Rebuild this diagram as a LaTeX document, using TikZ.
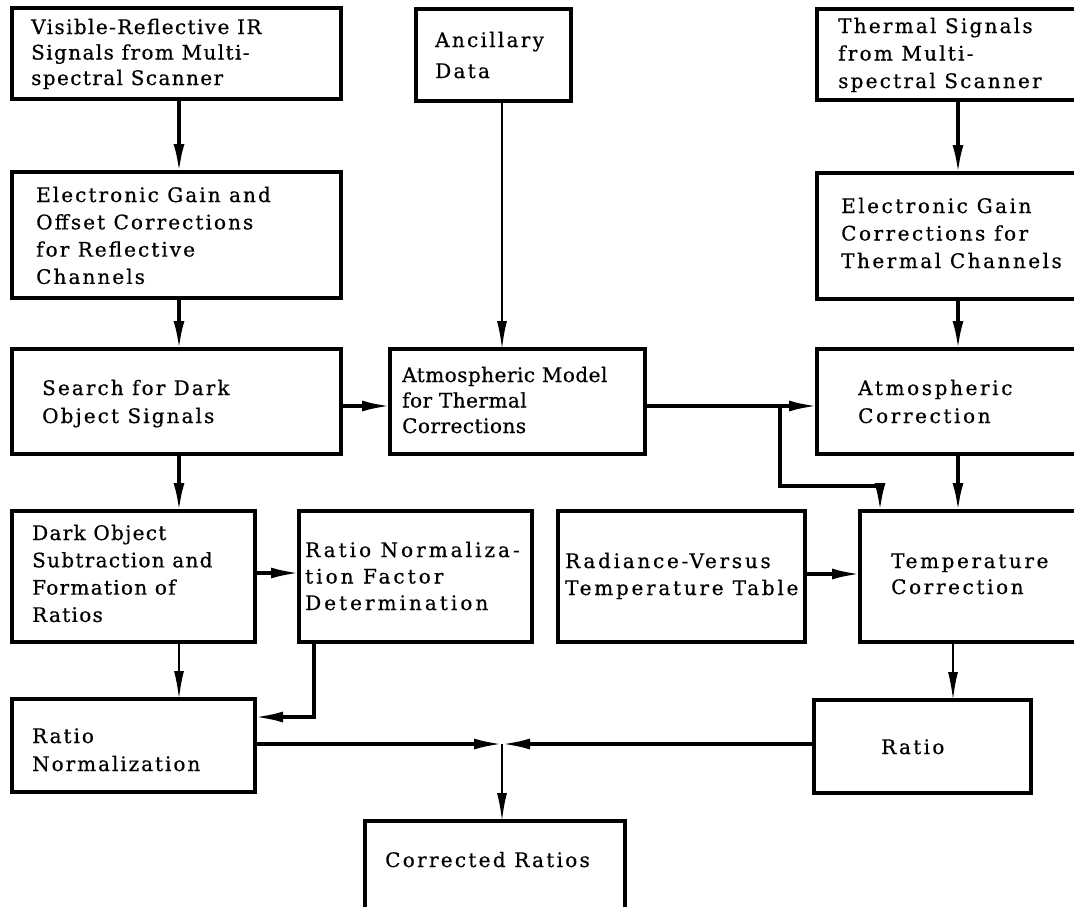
\documentclass[tikz,border=0pt]{standalone}
\usepackage{fontspec}
\setmainfont{DejaVu Serif}
\usetikzlibrary{arrows.meta}
\newcommand\ml[1]{\vtop{\halign{##\hfil\cr#1\crcr}}}
\newcommand\bx[5]{\node[box,minimum width={(#4-#2)*1pt},minimum height={(#5-#3)*1pt}] (#1) at (#2,#3) {};}
\newcommand\tf[2]{\addfontfeature{LetterSpace=#1,FakeBold=0.6}\fontsize{20}{#2}\selectfont}
\begin{document}
\begin{tikzpicture}[x=1pt,y=-1pt,
  box/.style={draw,line width=3.2pt,inner sep=0pt,outer sep=0pt,anchor=north west},
  txt/.style={inner sep=0pt,anchor=base west},
  conn/.style={line width=3.2pt,-{Latex[length=28pt,width=11pt]}},
  thinconn/.style={line width=1.9pt,-{Latex[length=28pt,width=10pt]}}]
\useasboundingbox (0,0) rectangle (1074,906);
\clip (0,0) rectangle (1074,906);
\fill[white] (0,0) rectangle (1074,906);
% boxes
\bx{A}{12}{8}{341}{99}
\bx{Anc}{416}{9}{571}{101}
\bx{Th}{817}{9}{1090}{100}
\bx{EGL}{12}{172}{341}{298}
\bx{EGR}{817}{173}{1090}{299}
\bx{Search}{12}{349}{341}{454}
\bx{Model}{390}{349}{645}{454}
\bx{AtmC}{817}{349}{1090}{454}
\bx{Dark}{12}{511}{255}{642}
\bx{RNF}{299}{511}{532}{642}
\bx{Rad}{558}{511}{805}{642}
\bx{TempC}{860}{511}{1090}{642}
\bx{RatioNorm}{12}{699}{255}{792}
\bx{Ratio}{814}{700}{1031}{793}
\bx{Corr}{365}{821}{625}{930}
% texts
\node[txt,font=\tf{7}{25.5}] (tA) at (31,34) {\ml{Visible-Reflective IR\cr Signals from Multi-\cr spectral Scanner}};
\node[txt,font=\tf{11.4}{31}] (tAnc) at (435,47) {\ml{Ancillary\cr Data}};
\node[txt,font=\tf{11.1}{27.5}] (tTh) at (838,33) {\ml{Thermal Signals\cr from Multi-\cr spectral Scanner}};
\node[txt,font=\tf{10.3}{27.3}] (tEGL) at (36,202) {\ml{Electronic Gain and\cr Offset Corrections\cr for Reflective\cr Channels}};
\node[txt,font=\tf{12.5}{27.5}] (tEGR) at (841,213) {\ml{Electronic Gain\cr Corrections for\cr Thermal Channels}};
\node[txt,font=\tf{10.4}{28}] (tSearch) at (42,395) {\ml{Search for Dark\cr Object Signals}};
\node[txt,font=\tf{2.4}{25.5}] (tModel) at (402,382) {\ml{Atmospheric Model\cr for Thermal\cr Corrections}};
\node[txt,font=\tf{13.1}{28}] (tAtmC) at (858,395) {\ml{Atmospheric\cr Correction}};
\node[txt,font=\tf{6.5}{27.3}] (tDark) at (32,540) {\ml{Dark Object\cr Subtraction and\cr Formation of\cr Ratios}};
\node[txt,font=\tf{15.1}{26.5}] (tRNF) at (305,557) {\ml{Ratio Normaliza-\cr tion Factor\cr Determination}};
\node[txt,font=\tf{13.7}{27}] (tRad) at (565,568) {\ml{Radiance-Versus\cr Temperature Table}};
\node[txt,font=\tf{13.1}{26}] (tTempC) at (891,568) {\ml{Temperature\cr Correction}};
\node[txt,font=\tf{9.8}{28}] (tRatioNorm) at (32,743) {\ml{Ratio\cr Normalization}};
\node[txt,font=\tf{11.6}{26}] (tRatio) at (881,754) {Ratio};
\node[txt,font=\tf{11.4}{26}] (tCorr) at (385,867) {Corrected Ratios};
% helper coordinates
\coordinate (xl) at (179,0);
\coordinate (xa) at (502,0);
\coordinate (xr) at (958,0);
\coordinate (xr2) at (953,0);
\coordinate (ys) at (0,406);
\coordinate (jn) at (780,406);
\coordinate (jb) at (780,486);
\coordinate (jc) at (880,486);
\coordinate (rn1) at (314,717);
\coordinate (yb) at (0,744);
\coordinate (jm) at (502,744);
\coordinate (yr) at (0,574);
\coordinate (yd) at (0,573);
% connectors
\draw[conn] (A.south -| xl) -- (EGL.north -| xl);
\draw[conn] (EGL.south -| xl) -- (Search.north -| xl);
\draw[conn] (Search.south -| xl) -- (Dark.north -| xl);
\draw[thinconn] (Dark.south -| xl) -- (RatioNorm.north -| xl);
\draw[thinconn] (Anc.south -| xa) -- (Model.north -| xa);
\draw[conn] (Th.south -| xr) -- (EGR.north -| xr);
\draw[conn] (EGR.south -| xr) -- (AtmC.north -| xr);
\draw[conn] (AtmC.south -| xr) -- (TempC.north -| xr);
\draw[thinconn] (TempC.south -| xr2) -- (Ratio.north -| xr2);
\draw[conn] (Search.east |- ys) -- (Model.west |- ys);
\draw[conn] (Model.east |- ys) -- (AtmC.west |- ys);
\draw[conn] (jn) -- (jb) -- (jc) -- (TempC.north -| jc);
\draw[conn] (Rad.east |- yr) -- (TempC.west |- yr);
\draw[conn] (Dark.east |- yd) -- (RNF.west |- yd);
\draw[conn] (RNF.south -| rn1) -- (rn1) -- (RatioNorm.east |- rn1);
\draw[conn] (RatioNorm.east |- yb) -- (jm);
\draw[conn] (Ratio.west |- yb) -- (jm);
\draw[thinconn] (jm) -- (Corr.north -| jm);
\end{tikzpicture}
\end{document}
